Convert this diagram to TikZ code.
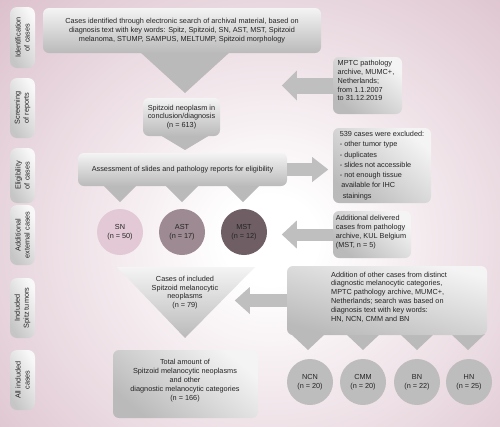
\documentclass[tikz,border=0pt]{standalone}
\usepackage{fontspec}
\setmainfont{Liberation Sans}
\usetikzlibrary{calc}
\definecolor{bgpink}{RGB}{219,191,203}
\definecolor{boxgray}{RGB}{186,186,186}
\definecolor{boxlight}{RGB}{244,244,244}
\definecolor{arrowgray}{RGB}{191,191,191}
\definecolor{stagelight}{RGB}{248,248,248}
\definecolor{stagegray}{RGB}{198,198,198}
\definecolor{txt}{RGB}{35,35,35}
\definecolor{snc}{RGB}{226,201,213}
\definecolor{astc}{RGB}{158,138,146}
\definecolor{mstc}{RGB}{111,95,101}
\definecolor{circgray}{RGB}{189,189,189}
\pgfdeclareradialshading{bgshade}{\pgfpoint{0bp}{0bp}}{color(0bp)=(white); color(4bp)=(white); color(32bp)=(bgpink); color(50bp)=(bgpink)}
\newcommand{\harrow}[5]{%
  \draw[draw=arrowgray, line width=#3] (#1) -- ($(#2)+(#5,0)$);
  \fill[arrowgray] ($(#2)+(#5,-#4)$) -- (#2) -- ($(#2)+(#5,#4)$) -- cycle;}
\begin{document}
\begin{tikzpicture}[x=1pt,y=-1pt,
  every node/.style={font=\fontsize{7.3}{8.8}\selectfont, text=txt, inner sep=0pt},
  gbox/.style={rounded corners=6pt, top color=boxlight, bottom color=boxgray, align=center},
  dbox/.style={gbox, shading angle=-40},
  stage/.style={rounded corners=7pt, top color=stagelight, bottom color=stagegray, shading angle=-60, rotate=90, align=center, minimum height=25pt},
  circ/.style={circle, minimum size=46pt, align=center},
  ptr/.style={fill=boxgray},
]
\useasboundingbox (0,0) rectangle (500,426);
\begin{scope}
  \clip (0,0) rectangle (500,426);
  \shade[shading=bgshade] (-30,-40) rectangle (570,520);
\end{scope}

% stage labels
\node[stage, minimum width=61pt] (s1) at (22.5,37.5) {Identification\\of cases};
\node[stage, minimum width=60pt] (s2) at (22.5,108) {Screening\\of reports};
\node[stage, minimum width=55pt] (s3) at (22.5,175.5) {Eligibility\\of cases};
\node[stage, minimum width=60pt] (s4) at (22.5,235) {Additional\\external cases};
\node[stage, minimum width=60pt] (s5) at (22.5,308) {Included\\Spitz tumors};
\node[stage, minimum width=60pt] (s6) at (22.5,380) {All included\\cases};

% pointers
\fill[ptr] (140,52) -- (230,52) -- (185,93) -- cycle;
\fill[ptr] (160,135) -- (210,135) -- (185,150) -- cycle;
\foreach \c in {120,182,243} \fill[ptr] (\c-17,185) -- (\c+17,185) -- (\c,202) -- cycle;
\foreach \c in {308,363,417,468} \fill[ptr] (\c-17,334) -- (\c+17,334) -- (\c,350) -- cycle;

% boxes
\node[gbox, minimum width=278pt, minimum height=45pt] (b1) at (182,30.5)
  {Cases identified through electronic search of archival material, based on\\
   diagnosis text with key words: Spitz, Spitzoid, SN, AST, MST, Spitzoid\\
   melanoma, STUMP, SAMPUS, MELTUMP, Spitzoid morphology};
\node[gbox, minimum width=77pt, minimum height=38pt] (b2) at (181.5,117)
  {Spitzoid neoplasm in\\conclusion/diagnosis\\(n = 613)};
\node[gbox, minimum width=209pt, minimum height=33pt] (b3) at (182.5,169.5)
  {Assessment of slides and pathology reports for eligibility};
\node[dbox, minimum width=69pt, minimum height=57pt] (mptc) at (367.5,85.5) {};
\node[align=left] (mptctxt) at (366,80.7)
  {MPTC pathology\\archive, MUMC+,\\Netherlands;\\from 1.1.2007\\to 31.12.2019};
\node[dbox, align=left, minimum width=98pt, minimum height=75pt, font=\fontsize{7.3}{10.3}\selectfont] (excl) at (382,165.5)
  {539 cases were excluded:\\- other tumor type\\- duplicates\\- slides not accessible\\- not enough tissue\\\hspace*{1.5pt}available for IHC\\\hspace*{3pt}stainings};
\node[dbox, minimum width=78pt, minimum height=47pt] (addl) at (372,234.5) {};
\node[align=left] (addltxt) at (371,232)
  {Additional delivered\\cases from pathology\\archive, KUL Belgium\\(MST, n = 5)};
\node[gbox, shading angle=-15, minimum width=200pt, minimum height=69pt] (addn) at (387,300.5) {};
\node[align=left] (addntxt) at (389,297)
  {Addition of other cases from distinct\\diagnostic melanocytic categories,\\MPTC pathology archive, MUMC+,\\Netherlands; search was based on\\diagnosis text with key words:\\HN, NCN, CMM and BN};
\node[dbox, minimum width=145pt, minimum height=68pt] (total) at (185.5,384) {};
\node[align=center] (totaltxt) at (185,380.7)
  {Total amount of\\Spitzoid melanocytic neoplasms\\and other\\diagnostic melanocytic categories\\(n = 166)};

% included triangle
\shade[top color=boxlight, bottom color=boxgray] (117,267) -- (255,267) -- (185,338) -- cycle;
\node[align=center] (inc) at (185,292.7) {Cases of included\\Spitzoid melanocytic\\neoplasms\\(n = 79)};

% circles
\node[circ, fill=snc] (sn) at (120,232) {SN\\(n = 50)};
\node[circ, fill=astc] (ast) at (182,232) {AST\\(n = 17)};
\node[circ, fill=mstc] (mst) at (244,232) {MST\\(n = 12)};
\node[circ, fill=circgray] (ncn) at (310,382) {NCN\\(n = 20)};
\node[circ, fill=circgray] (cmm) at (363,382) {CMM\\(n = 20)};
\node[circ, fill=circgray] (bn) at (417,382) {BN\\(n = 22)};
\node[circ, fill=circgray] (hn) at (469,382) {HN\\(n = 25)};

% block arrows
\path (mptc.west) ++(-51,0) coordinate (t1);
\harrow{mptc.west}{t1}{16pt}{15}{15}
\path (b3.east) ++(41,0) coordinate (t2);
\harrow{b3.east}{t2}{13pt}{12.5}{-16}
\path (addl.west) ++(-51,0) coordinate (t3);
\harrow{addl.west}{t3}{12pt}{14}{15}
\path (addn.west) ++(-52,0) coordinate (t4);
\harrow{addn.west}{t4}{13pt}{13.5}{15}
\end{tikzpicture}
\end{document}
